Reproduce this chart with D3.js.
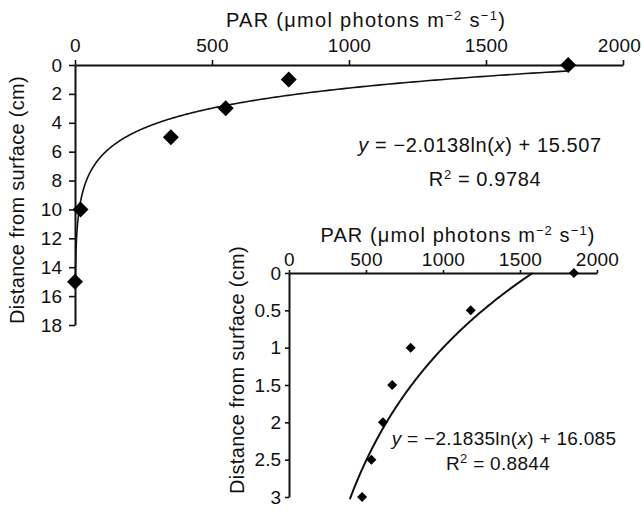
<!DOCTYPE html>
<html>
<head>
<meta charset="utf-8">
<script src="https://cdn.jsdelivr.net/npm/d3@7"></script>
<style>
html,body{margin:0;padding:0;background:#fff;}
svg{display:block;font-family:"Liberation Sans",Arial,Helvetica,sans-serif;}
</style>
</head>
<body>
<svg id="chart" width="642" height="512"></svg>
<script>
// ---- data ----
const mainPAR = [1800, 780, 550, 350, 20, 0];
const mainDepth = [0, 1, 3, 5, 10, 15];
const mainFit = [-2.0138, 15.507];   // y = a ln(x) + b
const mainXTicks = [0, 500, 1000, 1500, 2000];
const mainYTicks = [0, 2, 4, 6, 8, 10, 12, 14, 16, 18];

const insetPAR = [1850, 1180, 790, 670, 610, 535, 475];
const insetDepth = [0, 0.5, 1, 1.5, 2, 2.5, 3];
const insetFit = [-2.1835, 16.085];
const insetXTicks = [0, 500, 1000, 1500, 2000];
const insetYTicks = [0, 0.5, 1, 1.5, 2, 2.5, 3];

const svg = d3.select("#chart");

function drawPanel(cfg) {
  const x = d3.scaleLinear().domain([0, 2000]).range(cfg.xr);
  const y = d3.scaleLinear().domain(cfg.yd).range(cfg.yr);
  const g = svg.append("g");

  const xa = g.append("g").attr("transform", `translate(0,${cfg.yr[0]})`)
    .call(d3.axisTop(x).tickValues(cfg.xTicks).tickSize(cfg.xTick).tickSizeOuter(0).tickPadding(cfg.xPad).tickFormat(d3.format("d")));
  const ya = g.append("g").attr("transform", `translate(${cfg.xr[0]},0)`)
    .call(d3.axisLeft(y).tickValues(cfg.yTicks).tickSize(cfg.yTick).tickSizeOuter(0).tickPadding(cfg.yPad).tickFormat(d => String(d)));
  [xa, ya].forEach(a => {
    a.select(".domain").attr("stroke", "#111").attr("stroke-width", 2);
    a.selectAll(".tick line").attr("stroke", "#111").attr("stroke-width", 1.6);
    a.selectAll(".tick text").attr("fill", "#111").style("font-size", "19px");
  });
  xa.selectAll(".tick text").style("letter-spacing", "0.3px")
    .attr("dx", d => (d === 2000 ? cfg.lastDx : 0));

  // fit curve
  const [a, b] = cfg.fit;
  const pts = cfg.curveX.map(v => [v, a * Math.log(v) + b]);
  g.append("path").datum(pts)
    .attr("fill", "none").attr("stroke", "#111").attr("stroke-width", cfg.curveW)
    .attr("d", d3.line().x(d => x(d[0])).y(d => y(d[1])));

  // points
  const sym = d3.symbol().type(d3.symbolSquare).size(cfg.symSize);
  g.selectAll("path.pt").data(cfg.px.map((v, i) => [v, cfg.py[i]])).enter()
    .append("path").attr("class", "pt")
    .attr("d", sym)
    .attr("transform", d => `translate(${x(d[0])},${y(d[1])}) rotate(45)`)
    .attr("fill", "#000");

  // x title
  const t = g.append("text").attr("x", cfg.titleX).attr("y", cfg.titleY)
    .attr("text-anchor", "middle").style("font-size", "20px")
    .style("letter-spacing", cfg.titleLS).attr("fill", "#111");
  t.append("tspan").text("PAR (μmol photons m");
  t.append("tspan").attr("dy", -7).style("font-size", "13px").text("−2");
  t.append("tspan").attr("dy", 7).text(" s");
  t.append("tspan").attr("dy", -7).style("font-size", "13px").text("−1");
  t.append("tspan").attr("dy", 7).text(")");

  // y title
  g.append("text").attr("transform", `translate(${cfg.ytX},${cfg.ytY}) rotate(-90)`)
    .attr("text-anchor", "middle").style("font-size", "20px").style("letter-spacing", "0.3px")
    .attr("fill", "#111")
    .text("Distance from surface (cm)");

  // equation
  const e = g.append("text").attr("x", cfg.eqX).attr("y", cfg.eqY)
    .attr("text-anchor", "middle").style("font-size", cfg.eqFS).style("letter-spacing", cfg.eqLS)
    .attr("fill", "#111");
  e.append("tspan").style("font-style", "italic").text("y");
  e.append("tspan").text(` = −${Math.abs(a).toFixed(4)}ln(`);
  e.append("tspan").style("font-style", "italic").text("x");
  e.append("tspan").text(`) + ${b.toFixed(3)}`);
  const r = g.append("text").attr("x", cfg.rX).attr("y", cfg.rY)
    .attr("text-anchor", "middle").style("font-size", cfg.eqFS).style("letter-spacing", cfg.eqLS)
    .attr("fill", "#111");
  r.append("tspan").text("R");
  r.append("tspan").attr("dy", -7).style("font-size", "13px").text("2");
  r.append("tspan").attr("dy", 7).text(" = " + cfg.r2);
}

drawPanel({
  xr: [75, 623], yd: [0, 18], yr: [65, 325],
  xTicks: mainXTicks, yTicks: mainYTicks,
  xTick: 5, xPad: 8, yTick: 6, yPad: 7, lastDx: -4,
  fit: mainFit, curveX: d3.range(0, 1.0001, 0.002).map(t => Math.exp(t * Math.log(1800))), curveW: 1.6,
  px: mainPAR, py: mainDepth, symSize: 128,
  titleX: 366, titleY: 27, titleLS: "1.3px", ytX: 24, ytY: 200,
  eqX: 480, eqY: 152, rX: 485, rY: 186, r2: "0.9784", eqFS: "20px", eqLS: "0.6px"
});

drawPanel({
  xr: [289, 597], yd: [0, 3], yr: [273, 497],
  xTicks: insetXTicks, yTicks: insetYTicks,
  xTick: 3, xPad: 4, yTick: 4, yPad: 4, lastDx: 0,
  fit: insetFit, curveX: d3.range(0, 1.0001, 0.005).map(t => 395 + t * (1582 - 395)), curveW: 2,
  px: insetPAR, py: insetDepth, symSize: 50,
  titleX: 458, titleY: 242, titleLS: "1.1px", ytX: 244, ytY: 370,
  eqX: 504, eqY: 445, rX: 498, rY: 470, r2: "0.8844", eqFS: "19px", eqLS: "0.3px"
});
</script>
</body>
</html>
